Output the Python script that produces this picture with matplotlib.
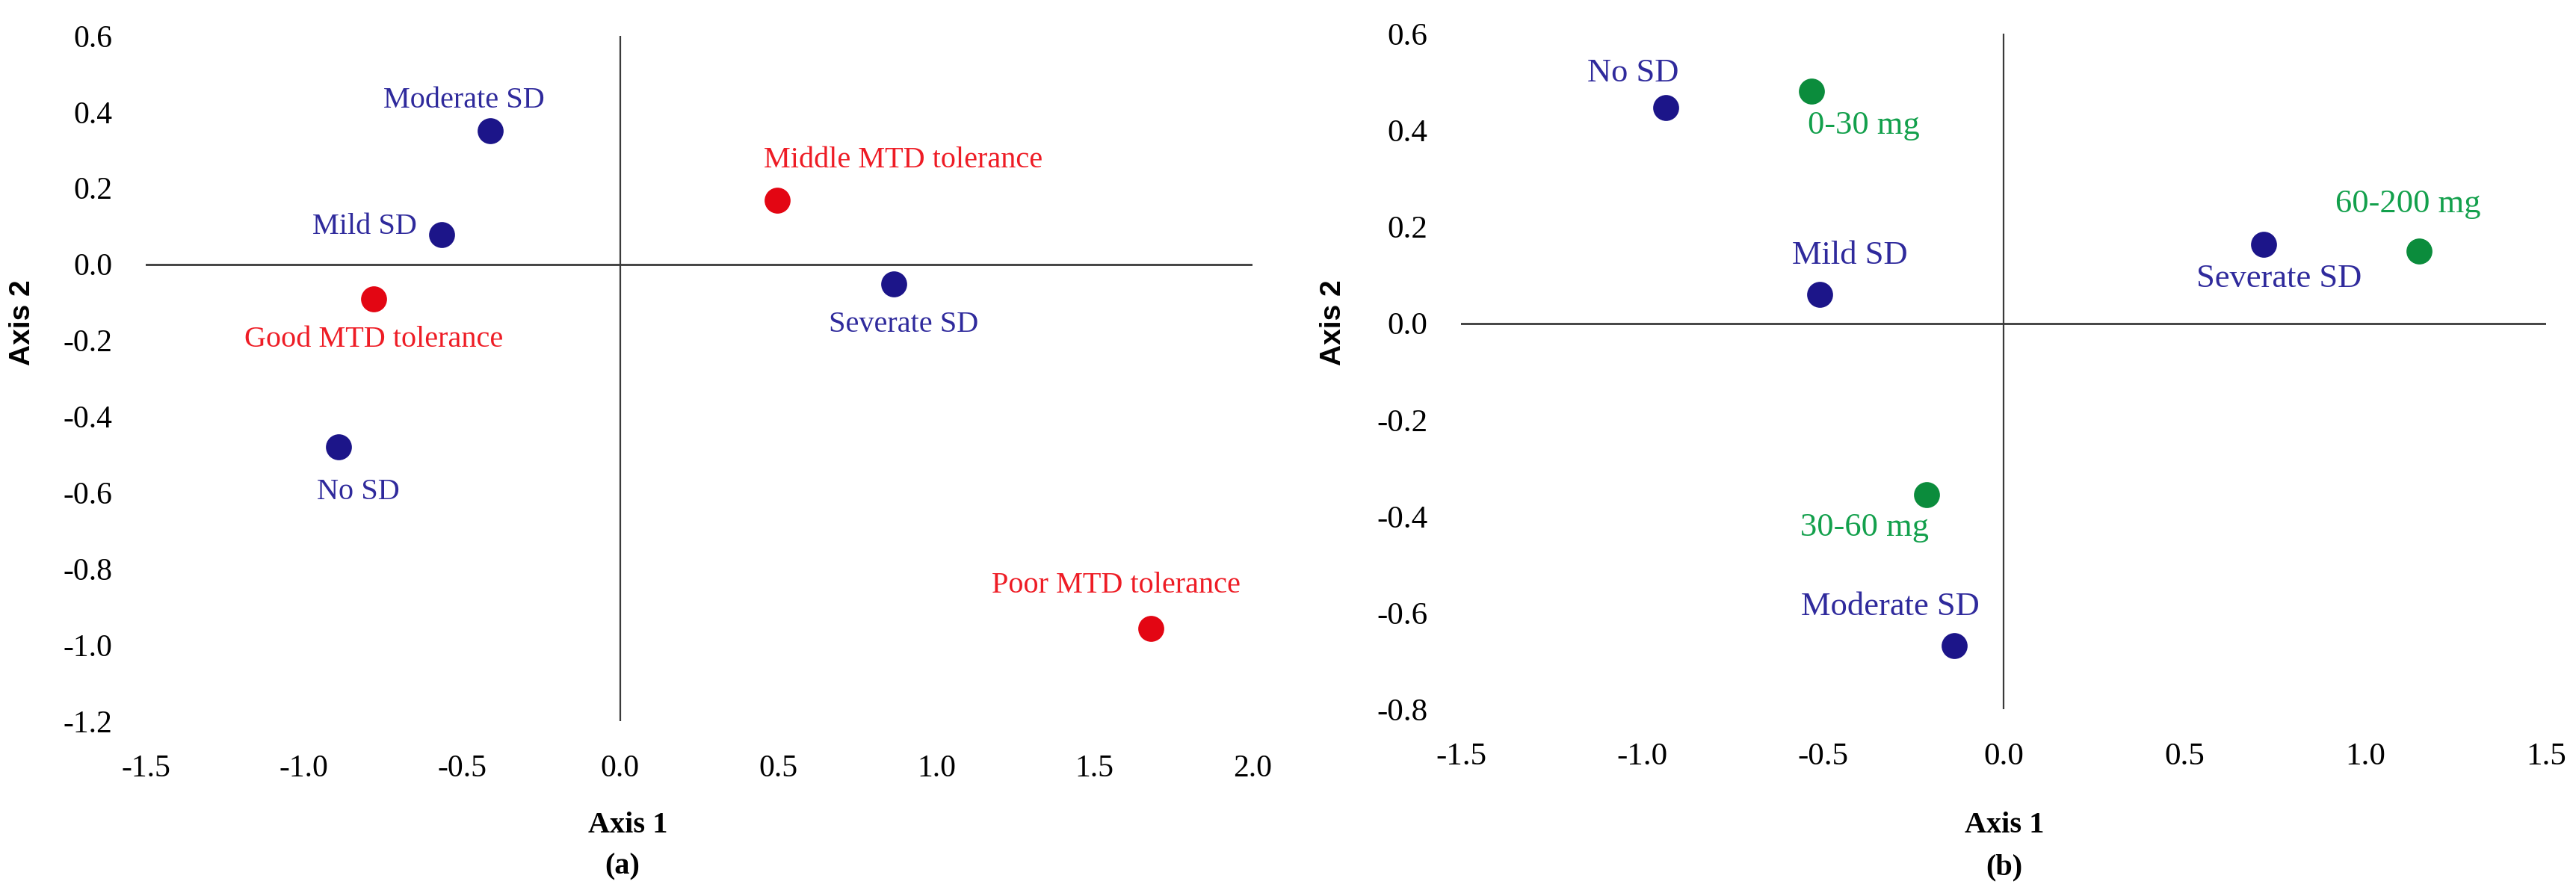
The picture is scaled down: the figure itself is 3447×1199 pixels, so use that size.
import matplotlib.pyplot as plt

# panel (a)
a_labels = ['Moderate SD', 'Mild SD', 'No SD', 'Severate SD',
            'Good MTD tolerance', 'Middle MTD tolerance', 'Poor MTD tolerance']
a_x = [-0.41, -0.565, -0.89, 0.865, -0.78, 0.497, 1.678]
a_y = [0.35, 0.077, -0.48, -0.051, -0.092, 0.169, -0.956]
a_group = ['sd', 'sd', 'sd', 'sd', 'mtd', 'mtd', 'mtd']

# panel (b)
b_labels = ['No SD', 'Mild SD', 'Moderate SD', 'Severate SD',
            '0-30 mg', '30-60 mg', '60-200 mg']
b_x = [-0.933, -0.509, -0.137, 0.72, -0.53, -0.213, 1.148]
b_y = [0.446, 0.060, -0.667, 0.163, 0.481, -0.355, 0.150]
b_group = ['sd', 'sd', 'sd', 'sd', 'dose', 'dose', 'dose']

dot_col = {'sd': '#1c1589', 'mtd': '#e30613', 'dose': '#0b8c3c'}
txt_col = {'sd': '#2f2a9c', 'mtd': '#ee1c25', 'dose': '#13a04c'}

# label offsets (points) and alignment
a_off = [(-12.6, 14.8, 'center'), (-37, 4, 'center'), (9.4, -21.6, 'center'),
         (4.7, -19.8, 'center'), (0, -19.4, 'center'), (-6.5, 19, 'left'),
         (-16.6, 20.5, 'center')]
b_off = [(-16, 16.7, 'center'), (14.8, 18.7, 'center'), (-30.6, 18.7, 'center'),
         (7.2, -16.6, 'center'), (-2, -16.7, 'left'), (-30, -15.8, 'center'),
         (-5, 22.5, 'center')]

serif = ['Liberation Serif', 'DejaVu Serif']
plt.rcParams['font.family'] = serif

fig = plt.figure(figsize=(17.24, 5.995), dpi=200)
axA = fig.add_axes([0.05655, 0.1952, 0.4296, 0.7648])
axB = fig.add_axes([0.567, 0.2081, 0.4211, 0.7544])


def panel(ax, labels, xs, ys, groups, offs, xlim, ylim, xticks, yticks, fs, tfs):
    for lab, x, y, g, (dx, dy, ha) in zip(labels, xs, ys, groups, offs):
        ax.plot(x, y, 'o', ms=11.5, color=dot_col[g], zorder=3)
        ax.annotate(lab, (x, y), xytext=(dx, dy), textcoords='offset points',
                    ha=ha, va='center', color=txt_col[g], fontsize=fs,
                    family=serif)
    ax.axhline(0, color='#3a3a3a', lw=1.0, zorder=1)
    ax.axvline(0, color='#3a3a3a', lw=0.8, zorder=1)
    ax.set_xlim(xlim)
    ax.set_ylim(ylim)
    ax.set_xticks(xticks)
    ax.set_yticks(yticks)
    ax.set_xticklabels(['%.1f' % t for t in xticks], family=serif, fontsize=tfs)
    ax.set_yticklabels(['%.1f' % t for t in yticks], family=serif, fontsize=tfs)
    ax.tick_params(length=0, pad=16)
    for s in ax.spines.values():
        s.set_visible(False)


panel(axA, a_labels, a_x, a_y, a_group, a_off, (-1.5, 2.0), (-1.2, 0.6),
      [-1.5, -1.0, -0.5, 0.0, 0.5, 1.0, 1.5, 2.0],
      [-1.2, -1.0, -0.8, -0.6, -0.4, -0.2, 0.0, 0.2, 0.4, 0.6], 14.5, 15)
panel(axB, b_labels, b_x, b_y, b_group, b_off, (-1.5, 1.5), (-0.8, 0.6),
      [-1.5, -1.0, -0.5, 0.0, 0.5, 1.0, 1.5],
      [-0.8, -0.6, -0.4, -0.2, 0.0, 0.2, 0.4, 0.6], 16, 15.5)

for xa, xb in [(0.0087, 0.2436), (0.5174, 0.7778)]:
    fig.text(xa, 0.640, 'Axis 2', rotation=90, ha='center', va='center',
             fontsize=14, fontweight='bold', family='Liberation Sans')
    fig.text(xb, 0.0792, 'Axis 1', ha='center', va='center',
             fontsize=14.5, fontweight='bold', family=serif)
fig.text(0.2416, 0.0325, '(a)', ha='center', va='center', fontsize=14.5,
         fontweight='bold', family=serif)
fig.text(0.7778, 0.0317, '(b)', ha='center', va='center', fontsize=14.5,
         fontweight='bold', family=serif)

fig.savefig('out.png', dpi=200)
